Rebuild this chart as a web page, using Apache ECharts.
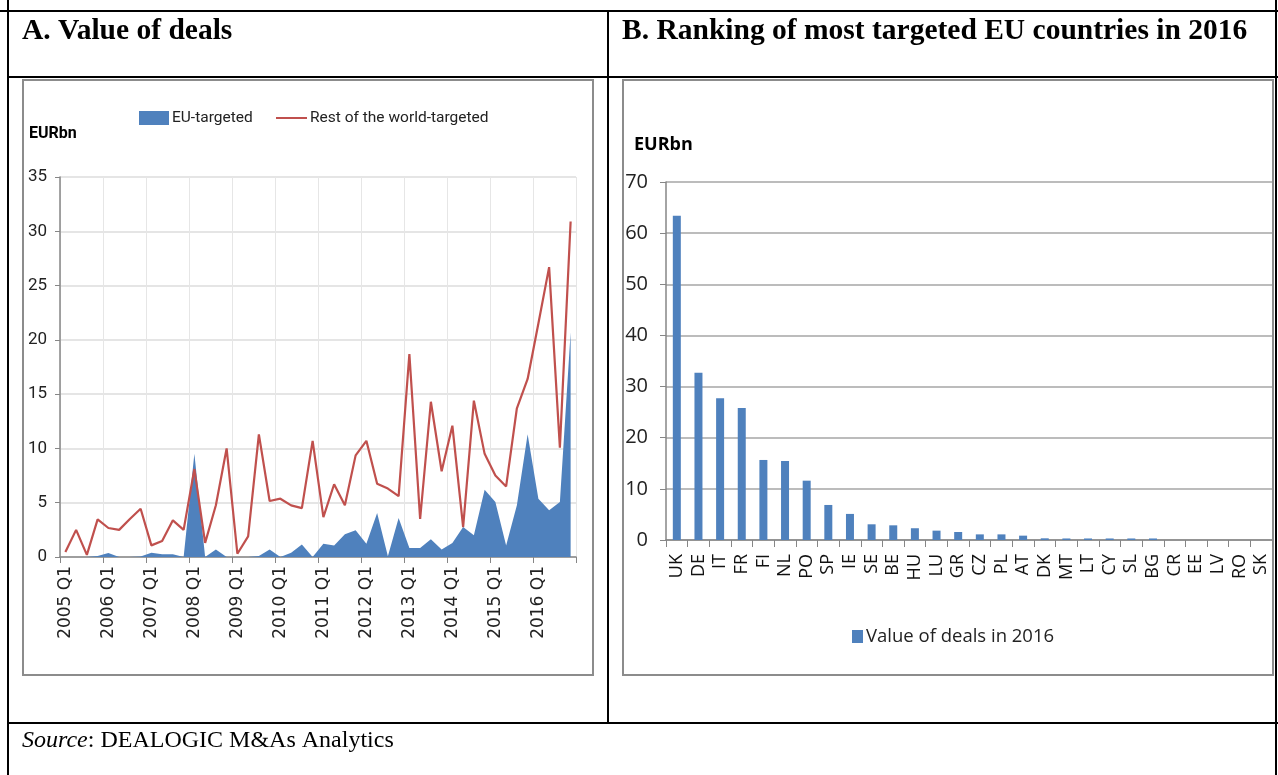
<!DOCTYPE html>
<html><head><meta charset="utf-8">
<script src="https://cdn.jsdelivr.net/npm/echarts@6/dist/echarts.min.js"></script>
<style>html,body{margin:0;padding:0;background:#fff}#c{width:1278px;height:775px}</style>
</head><body><div id="c"></div>
<script>
const quarters = [
 '2005 Q1','2005 Q2','2005 Q3','2005 Q4','2006 Q1','2006 Q2','2006 Q3','2006 Q4',
 '2007 Q1','2007 Q2','2007 Q3','2007 Q4','2008 Q1','2008 Q2','2008 Q3','2008 Q4',
 '2009 Q1','2009 Q2','2009 Q3','2009 Q4','2010 Q1','2010 Q2','2010 Q3','2010 Q4',
 '2011 Q1','2011 Q2','2011 Q3','2011 Q4','2012 Q1','2012 Q2','2012 Q3','2012 Q4',
 '2013 Q1','2013 Q2','2013 Q3','2013 Q4','2014 Q1','2014 Q2','2014 Q3','2014 Q4',
 '2015 Q1','2015 Q2','2015 Q3','2015 Q4','2016 Q1','2016 Q2','2016 Q3','2016 Q4'];
const euTargeted = [0,0,0,0.1,0.37,0,0,0.05,0.4,0.25,0.25,0,9.5,0,0.68,0,
 0,0,0.1,0.7,0,0.4,1.15,0,1.23,1.07,2.1,2.46,1.23,4.05,0.06,3.6,
 0.83,0.83,1.63,0.7,1.29,2.76,2.0,6.2,5.07,1.07,4.76,11.3,5.37,4.3,5.07,20.7];
const restOfWorld = [0.46,2.5,0.2,3.47,2.67,2.5,3.5,4.45,1.07,1.47,3.38,2.5,8.1,1.3,4.76,10.0,
 0.3,1.9,11.3,5.16,5.37,4.76,4.5,10.7,3.68,6.7,4.76,9.36,10.7,6.75,6.3,5.6,
 18.7,3.5,14.3,7.9,12.1,2.76,14.4,9.5,7.5,6.5,13.7,16.4,21.5,26.7,10.07,30.9];
const countries = ['UK','DE','IT','FR','FI','NL','PO','SP','IE','SE','BE','HU','LU','GR','CZ','PL','AT','DK','MT','LT','CY','SL','BG','CR','EE','LV','RO','SK'];
const deals2016 = [63.4,32.7,27.7,25.8,15.65,15.45,11.6,6.85,5.1,3.07,2.87,2.3,1.83,1.57,1.1,1.1,0.85,0.33,0.3,0.3,0.3,0.3,0.3,0,0,0,0,0];

const ROBO = "Roboto,'Open Sans',sans-serif";
const SANS = "'Open Sans','Noto Sans',sans-serif";
const SERIF = "'Liberation Serif','Times New Roman',serif";

const chart = echarts.init(document.getElementById('c'), null, {renderer:'canvas'});
const black = {stroke:'#000', lineWidth:2};
function hline(x1,x2,y){return {type:'line',shape:{x1:x1,y1:y,x2:x2,y2:y},style:black,silent:true};}
function vline(x,y1,y2){return {type:'line',shape:{x1:x,y1:y1,x2:x,y2:y2},style:black,silent:true};}

chart.setOption({
  animation:false,
  backgroundColor:'#fff',
  grid:[
    {left:60, top:177, width:516, height:380},
    {left:666, top:182, width:606, height:358}
  ],
  legend:[
    {left:139, top:110, padding:0, itemWidth:30, itemHeight:14, icon:'rect',
     data:['EU-targeted'], textStyle:{fontFamily:ROBO, fontSize:15.5, color:'#222', padding:[0,0,0,-2]}},
    {left:276, top:110, padding:0, itemWidth:31, itemHeight:2, icon:'rect',
     data:['Rest of the world-targeted'], textStyle:{fontFamily:ROBO, fontSize:15.5, color:'#222', padding:[0,0,0,-2]}},
    {left:852, top:627, padding:0, itemWidth:11, itemHeight:13, icon:'rect',
     data:['Value of deals in 2016'], textStyle:{fontFamily:SANS, fontSize:18.5, color:'#222', padding:[0,0,0,-2]}}
  ],
  xAxis:[
    {type:'category', gridIndex:0, data:quarters, boundaryGap:true,
     axisLine:{lineStyle:{color:'#868686', width:1.5}},
     axisTick:{show:true, interval:3, length:6, lineStyle:{color:'#868686'}},
     axisLabel:{interval:3, rotate:90, fontFamily:"'DejaVu Sans',sans-serif", fontSize:17, color:'#222', margin:9},
     splitLine:{show:true, interval:3, lineStyle:{color:'#e6e6e6', width:1}}},
    {type:'category', gridIndex:1, data:countries, boundaryGap:true,
     axisLine:{lineStyle:{color:'#868686', width:1.5}},
     axisTick:{show:true, interval:0, length:7, lineStyle:{color:'#868686'}},
     axisLabel:{interval:0, rotate:90, fontFamily:SANS, fontSize:18, color:'#111', margin:14},
     splitLine:{show:false}}
  ],
  yAxis:[
    {type:'value', gridIndex:0, min:0, max:35, interval:5,
     axisLine:{show:true, lineStyle:{color:'#868686', width:1.5}},
     axisTick:{show:true, length:5, lineStyle:{color:'#868686'}},
     axisLabel:{fontFamily:ROBO, fontSize:17, color:'#222', margin:13},
     splitLine:{lineStyle:{color:'#dcdcdc', width:1.5}}},
    {type:'value', gridIndex:1, min:0, max:70, interval:10,
     axisLine:{show:true, lineStyle:{color:'#868686', width:1.5}},
     axisTick:{show:true, length:6, lineStyle:{color:'#868686'}},
     axisLabel:{fontFamily:SANS, fontSize:20, color:'#222', margin:18},
     splitLine:{lineStyle:{color:'#a6a6a6', width:1.5}}}
  ],
  series:[
    {name:'EU-targeted', type:'line', xAxisIndex:0, yAxisIndex:0, data:euTargeted,
     symbol:'none', lineStyle:{width:0}, areaStyle:{color:'#4f81bd', opacity:1},
     itemStyle:{color:'#4f81bd'}, z:2},
    {name:'Rest of the world-targeted', type:'line', xAxisIndex:0, yAxisIndex:0, data:restOfWorld,
     symbol:'none', lineStyle:{color:'#c0504d', width:2.2}, itemStyle:{color:'#c0504d'}, z:3},
    {name:'Value of deals in 2016', type:'bar', xAxisIndex:1, yAxisIndex:1, data:deals2016,
     barWidth:8, itemStyle:{color:'#4f81bd'}}
  ],
  graphic:[
    hline(0,1278,11), hline(8,1278,77), hline(8,1278,723),
    vline(8,0,775), vline(608,11,723), vline(1276,0,775),
    {type:'rect', shape:{x:23,y:80,width:570,height:595}, style:{fill:null, stroke:'#8c8c8c', lineWidth:2}, silent:true, z:-1},
    {type:'rect', shape:{x:623,y:80,width:650,height:595}, style:{fill:null, stroke:'#8c8c8c', lineWidth:2}, silent:true, z:-1},
    {type:'text', x:22, y:31, style:{text:'A. Value of deals', font:'bold 29.5px '+SERIF, fill:'#000', verticalAlign:'middle'}},
    {type:'text', x:622, y:31, style:{text:'B. Ranking of most targeted EU countries in 2016', font:'bold 29.5px '+SERIF, fill:'#000', verticalAlign:'middle'}},
    {type:'text', x:29, y:134, style:{text:'EURbn', font:'bold 16px '+ROBO, fill:'#000', verticalAlign:'middle'}},
    {type:'text', x:634, y:145, style:{text:'EURbn', font:'bold 18px '+SANS, fill:'#000', verticalAlign:'middle'}},
    {type:'text', x:22, y:741, style:{
      text:'{i|Source}: DEALOGIC M&As Analytics', verticalAlign:'middle',
      font:'24px '+SERIF, fill:'#000',
      rich:{i:{fontStyle:'italic', fontFamily:SERIF, fontSize:24, fill:'#000'}}}}
  ]
});
</script></body></html>
